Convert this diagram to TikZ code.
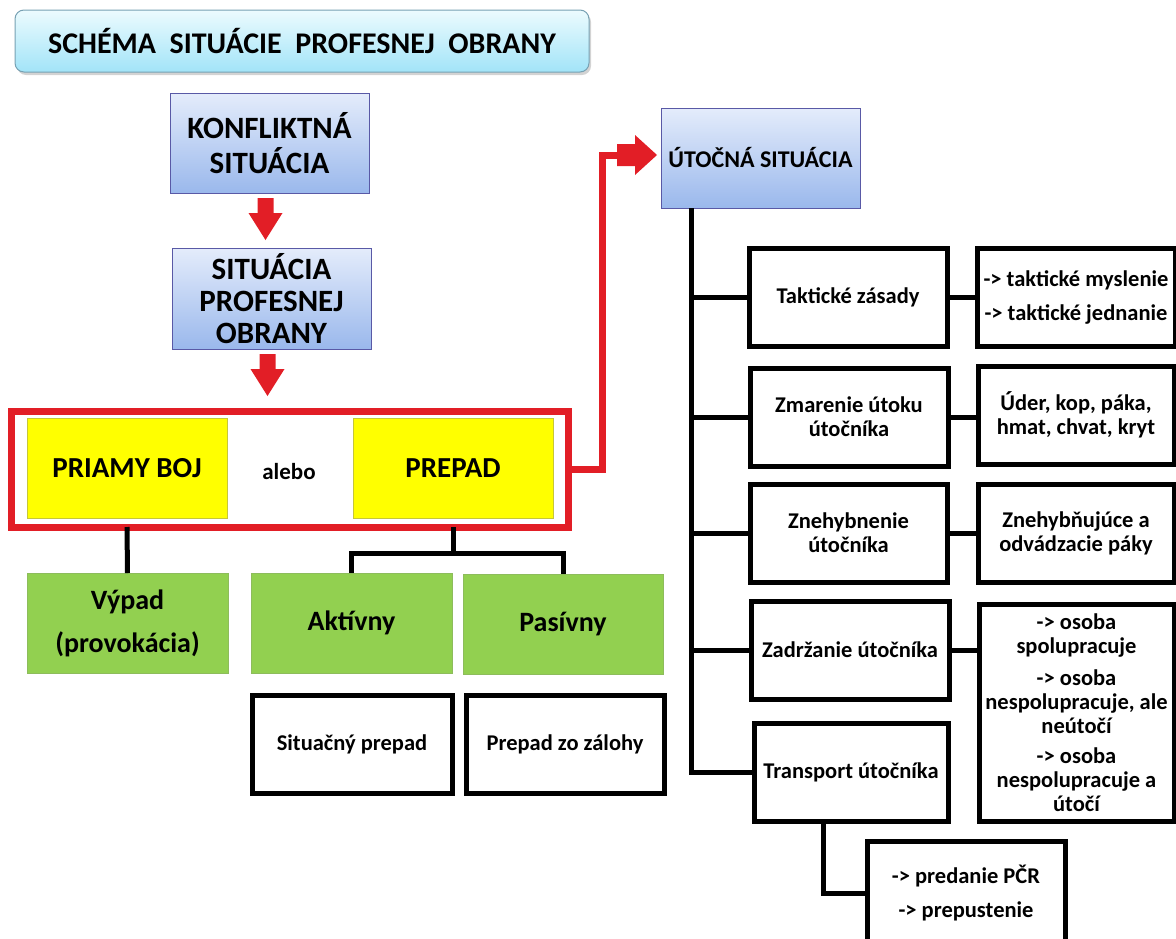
\documentclass[tikz,border=0pt]{standalone}
\usepackage{fontspec}
\setmainfont{Carlito}
\usetikzlibrary{shadows}

\definecolor{arrred}{RGB}{226,30,38}
\definecolor{modraA}{RGB}{228,236,251}
\definecolor{modraB}{RGB}{154,184,236}
\definecolor{tyrkysA}{RGB}{236,251,254}
\definecolor{tyrkysB}{RGB}{162,228,248}
\definecolor{zlta}{RGB}{255,255,0}
\definecolor{zelena}{RGB}{146,208,80}

\begin{document}
\begin{tikzpicture}[x=1pt,y=-1pt,
    every node/.style={inner sep=0pt,outer sep=0pt,align=center},
    cell/.style 2 args={anchor=north west,minimum width=#1,minimum height=#2},
    velky/.style={font=\fontsize{31}{34}\selectfont\bfseries},
    stredny/.style={font=\fontsize{28}{43}\selectfont\bfseries},
    maly/.style={font=\fontsize{22.5}{24}\selectfont\bfseries},
    modrybox/.style={draw=gray!70!blue,line width=1pt,top color=modraA,bottom color=modraB,velky},
    zltybox/.style={draw=zlta!55!gray,line width=1pt,fill=zlta,font=\fontsize{29}{34}\selectfont\bfseries},
    zelenybox/.style={draw=zelena!75!gray,line width=1pt,fill=zelena,stredny},
    bielybox/.style={draw=black,line width=5pt,fill=white,maly},
    conn/.style={draw=black,line width=5pt},
    redline/.style={draw=arrred,line width=7pt},
    redarr/.style={fill=arrred}]
  \useasboundingbox (0,0) rectangle (1176,938);
  \clip (0,0) rectangle (1176,938);

  %%%%  Title
  \node[cell={574}{62},rounded corners=9pt,draw=cyan!35!gray,line width=1pt,
        top color=tyrkysA,bottom color=tyrkysB,
        drop shadow={shadow xshift=2pt,shadow yshift=-3pt,opacity=.35},
        font=\fontsize{30}{34}\selectfont\bfseries] (title) at (15,10)
        {SCHÉMA~ SITUÁCIE~ PROFESNEJ~ OBRANY};

  %%%%  Left column
  \node[modrybox,cell={199}{100}] (konflikt) at (170,93) {KONFLIKTNÁ\\[1pt]SITUÁCIA};
  \node[modrybox,cell={199}{101},font=\fontsize{31}{32}\selectfont\bfseries] (situacia) at (172,248)
    {SITUÁCIA\\PROFESNEJ\\OBRANY};

  \node[draw=arrred,line width=7pt,cell={557}{116}] (ramec) at (11,411) {};
  \node[zltybox,cell={200}{100}] (priamy) at (27,418) {PRIAMY BOJ};
  \node[zltybox,cell={200}{100}] (prepad) at (353,418) {PREPAD};
  \node[font=\fontsize{23}{26}\selectfont\bfseries] (alebo) at (289,472) {alebo};

  \node[zelenybox,cell={201}{100}] (vypad) at (27,573) {Výpad\\(provokácia)};
  \node[zelenybox,cell={201}{100}] (aktivny) at (251,573) {Aktívny};
  \node[zelenybox,cell={200}{100}] (pasivny) at (463,574) {Pasívny};

  \node[bielybox,cell={200}{98}] (situacny) at (252,695) {Situačný prepad};
  \node[bielybox,cell={198}{98}] (zaloha) at (466,695) {Prepad zo zálohy};

  % down arrows
  \foreach \a in {konflikt,situacia}
    \fill[redarr] ([xshift=-12pt,yshift=-5pt]\a.south) -- ++(16,0) -- ++(0,15) -- ++(9,0)
      -- ++(-17,27) -- ++(-17,-27) -- ++(9,0) -- cycle;

  \draw[conn] (priamy.south |- ramec.south) -- (vypad.north);
  \draw[conn] (prepad.south |- ramec.south) -- ++(0,26) coordinate (rozv);
  \draw[conn] (aktivny.north) |- (rozv) -| (pasivny.north);

  %%%%  Right column
  \node[modrybox,cell={199}{100},font=\fontsize{24}{29}\selectfont\bfseries] (utocna) at (661,108) {ÚTOČNÁ SITUÁCIA};

  \node[bielybox,cell={198}{98}] (taktika) at (749,248) {Taktické zásady};
  \node[bielybox,cell={198}{98}] (taktikaR) at (977,248) {-> taktické myslenie\\[10pt]-> taktické jednanie};
  \node[bielybox,cell={198}{98}] (zmarenie) at (750,368) {Zmarenie útoku\\útočníka};
  \node[bielybox,cell={196}{98}] (zmarenieR) at (978,366) {Úder, kop, páka,\\hmat, chvat, kryt};
  \node[bielybox,cell={197}{98}] (znehyb) at (750,484) {Znehybnenie\\útočníka};
  \node[bielybox,cell={196}{98}] (znehybR) at (978,484) {Znehybňujúce a\\odvádzacie páky};
  \node[bielybox,cell={198}{98}] (zadrz) at (751,601) {Zadržanie útočníka};
  \node[bielybox,cell={195}{217}] (osoby) at (979,604)
    {-> osoba\\spolupracuje\\[8pt]-> osoba\\nespolupracuje, ale\\neútočí\\[6pt]-> osoba\\nespolupracuje a\\útočí};
  \node[bielybox,cell={194}{98}] (transport) at (754,723) {Transport útočníka};
  \node[bielybox,cell={198}{104}] (predanie) at (867,841) {-> predanie PČR\\[10pt]-> prepustenie};

  % red connector to the attack situation
  \coordinate (hrot) at ([xshift=-4pt]utocna.west);
  \fill[redarr] ([yshift=3pt]hrot) -- ++(-22,-20) -- ++(0,9) -- ++(-18,0) -- ++(0,22)
    -- ++(18,0) -- ++(0,9) -- cycle;
  \draw[redline] (ramec.east) -| ([xshift=-55pt,yshift=3pt]hrot) -- ([xshift=-38pt,yshift=3pt]hrot);

  \coordinate (kmen) at (691,0);
  \draw[conn] (utocna.south -| kmen) |- (transport.west);
  \foreach \n in {taktika,zmarenie,znehyb,zadrz}
    \draw[conn] (\n.west -| kmen) -- (\n.west);
  \foreach \l/\r in {taktika/taktikaR,zmarenie/zmarenieR,znehyb/znehybR,zadrz/osoby}
    \draw[conn] (\l.east) -- (\l.east -| \r.west);
  \draw[conn] ([xshift=-28pt]transport.south) |- (predanie.west);
\end{tikzpicture}
\end{document}
